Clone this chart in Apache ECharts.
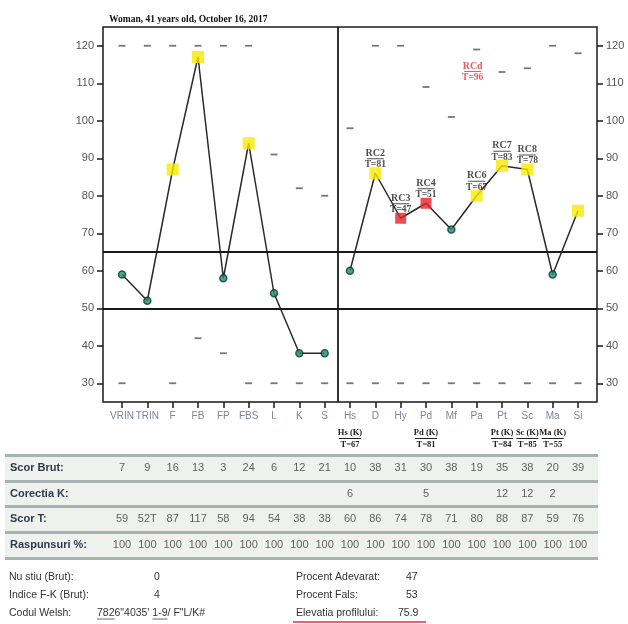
<!DOCTYPE html>
<html><head><meta charset="utf-8">
<script src="https://cdn.jsdelivr.net/npm/echarts@6/dist/echarts.min.js"></script>
<style>html,body{margin:0;padding:0;background:#fff}#c{width:628px;height:624px}</style>
</head><body><div id="c"></div>
<script>
const scales = ['VRIN','TRIN','F','FB','FP','FBS','L','K','S','Hs','D','Hy','Pd','Mf','Pa','Pt','Sc','Ma','Si'];
const tScores = [59,52,87,117,58,94,54,38,38,60,86,74,78,71,80,88,87,59,76];
const markerKind = ['dot','dot','yellow','yellow','dot','yellow','dot','dot','dot','dot','yellow','red','red','dot','yellow','yellow','yellow','dot','yellow'];
const rangeHigh = [120,120,120,120,120,120,91,82,80,98,120,120,109,101,119,113,114,120,118];
const rangeLow = [30,null,30,42,38,30,30,30,30,30,30,30,30,30,30,30,30,30,30];
const rcLabels = [['RC2',81,'D'],['RC3',47,'Hy'],['RC4',51,'Pd'],['RC6',67,'Pa'],['RC7',83,'Pt'],['RC8',78,'Sc']];
const rcdLabel = ['RCd',96,'Pa'];
const kCorrected = {Hs:67, Pd:81, Pt:84, Sc:85, Ma:55};
const yTicks = [30,40,50,60,70,80,90,100,110,120];
const cutLines = [65,50];
const rowNames = ['Scor Brut:','Corectia K:','Scor T:','Raspunsuri %:'];
const scorBrut = [7,9,16,13,3,24,6,12,21,10,38,31,30,38,19,35,38,20,39];
const corectiaK = [null,null,null,null,null,null,null,null,null,6,null,null,5,null,null,12,12,2,null];
const trinDirection = 'T';
const raspunsuri = [100,100,100,100,100,100,100,100,100,100,100,100,100,100,100,100,100,100,100];
const title = 'Woman, 41 years old, October 16, 2017';
const infoLeft = [['Nu stiu (Brut):','0'],['Indice F-K (Brut):','4'],['Codul Welsh:','7826"4035\' 1-9/ F"L/K#']];
const infoRight = [['Procent Adevarat:','47'],['Procent Fals:','53'],['Elevatia profilului:','75.9']];
const welshUnderlined = ['782', '1-9'];

const idx = n => scales.indexOf(n);
const plotLeft = 103, plotRight = 597, tableLeft = 5, tableRight = 598;
const xMin = -0.75, xMax = scales.length - 0.25;
const unit = (plotRight - plotLeft) / (xMax - xMin);
const tMin = xMin - (plotLeft - tableLeft) / unit;
const tMax = xMax + (tableRight - plotRight) / unit;
const catIdx = scales.map((_, i) => i);

const serif = 'Liberation Serif';
const sans = 'Liberation Sans';

const kindStyle = {
  dot: {symbol:'circle', symbolSize:7, itemStyle:{color:'#23907a', borderColor:'#0b3a30', borderWidth:1.5}},
  yellow: {symbol:'rect', symbolSize:12, itemStyle:{color:'#f7ea00'}},
  red: {symbol:'rect', symbolSize:11, itemStyle:{color:'#e8202a'}}
};
const markerData = tScores.map((v,i) => Object.assign({value:[i,v]}, kindStyle[markerKind[i]]));

const dashData = [];
scales.forEach((s,i) => {
  if (rangeHigh[i] != null) dashData.push([i, rangeHigh[i]]);
  if (rangeLow[i] != null) dashData.push([i, rangeLow[i]]);
});

const rcRich = {
  a:{fontFamily:serif, fontWeight:'bold', fontSize:10, lineHeight:10, color:'#222'},
  ul:{width:17, height:1, lineHeight:1, fontSize:1, backgroundColor:'#222'},
  b:{fontFamily:serif, fontWeight:'bold', fontSize:9.5, lineHeight:11, color:'#222'},
  ar:{fontFamily:serif, fontWeight:'bold', fontSize:10, lineHeight:10, color:'#e8303a'},
  ulr:{width:17, height:1, lineHeight:1, fontSize:1, backgroundColor:'#e8303a'},
  br:{fontFamily:serif, fontWeight:'bold', fontSize:9.5, lineHeight:11, color:'#e8303a'}
};
const rcData = rcLabels.map(r => ({value:[idx(r[2]), tScores[idx(r[2])]], name:r[0], t:r[1]}));

const axisRich = {
  n:{fontFamily:sans, fontSize:10, color:'#7a859e', lineHeight:12},
  sp:{fontSize:1, lineHeight:6, height:6},
  u:{fontFamily:serif, fontWeight:'bold', fontSize:8.5, color:'#222', lineHeight:10},
  ul:{width:22, height:1, lineHeight:1, fontSize:1, backgroundColor:'#222'},
  b:{fontFamily:serif, fontWeight:'bold', fontSize:8.5, color:'#222', lineHeight:11}
};

// table cells
const tableData = [];
scales.forEach((s,i) => {
  tableData.push([i, 0, String(scorBrut[i])]);
  if (corectiaK[i] != null) tableData.push([i, 1, String(corectiaK[i])]);
  tableData.push([i, 2, String(tScores[i]) + (s === 'TRIN' ? trinDirection : '')]);
  tableData.push([i, 3, String(raspunsuri[i])]);
});

const infoFont = '10.5px ' + sans;
const mctx = document.createElement('canvas').getContext('2d');
mctx.font = infoFont;
const tw = t => mctx.measureText(t).width;

const graphics = [];
const infoY = [578, 596, 614];
const welshX = 97;
infoLeft.forEach((r,k) => {
  graphics.push({type:'text', left:9, top:infoY[k]-6, style:{text:r[0], font:infoFont, fill:'#333'}});
  graphics.push({type:'text', left: k===2 ? welshX : 154, top:infoY[k]-6, style:{text:r[1], font:infoFont, fill:'#333'}});
});
infoRight.forEach((r,k) => {
  graphics.push({type:'text', left:296, top:infoY[k]-6, style:{text:r[0], font:infoFont, fill:'#333'}});
  graphics.push({type:'text', left: k===2 ? 398 : 406, top:infoY[k]-6, style:{text:r[1], font:infoFont, fill:'#333'}});
});
const welsh = infoLeft[2][1];
welshUnderlined.forEach(part => {
  const p = welsh.indexOf(part);
  const x1 = welshX + tw(welsh.slice(0, p));
  const x2 = x1 + tw(part);
  graphics.push({type:'line', shape:{x1:x1, y1:619, x2:x2, y2:619}, style:{stroke:'#444', lineWidth:0.8}});
});
graphics.push({type:'line', shape:{x1:293,y1:622,x2:426,y2:622}, style:{stroke:'#e0303a', lineWidth:1.5}});

const option = {
  animation:false,
  backgroundColor:'#fff',
  title:{text:title, left:104, top:10, textStyle:{fontFamily:serif, fontWeight:'bold', fontSize:9.5, color:'#111'}},
  grid:[
    {left:plotLeft, right:628-plotRight, top:27, bottom:624-402, show:true, borderColor:'#1a1a1a', borderWidth:1.5, backgroundColor:'transparent'},
    {left:tableLeft, right:628-tableRight, top:455, bottom:624-558}
  ],
  xAxis:[
    {type:'value', gridIndex:0, min:xMin, max:xMax,
     axisLine:{show:false, onZero:false}, splitLine:{show:false},
     axisTick:{show:true, customValues:catIdx, length:6, lineStyle:{color:'#1a1a1a', width:1.5}},
     axisLabel:{customValues:catIdx, margin:8, formatter:v => {
        const s = scales[Math.round(v)];
        if (!s) return '';
        if (kCorrected[s] != null) return '{n|'+s+'}\n{sp| }\n{u|'+s+' (K)}\n{ul| }\n{b|T='+kCorrected[s]+'}';
        return '{n|'+s+'}';
     }, rich:axisRich}},
    {type:'value', gridIndex:1, min:tMin, max:tMax, show:false}
  ],
  yAxis:[
    {type:'value', gridIndex:0, min:25, max:125, position:'left',
     axisLine:{show:false, onZero:false}, splitLine:{show:false},
     axisTick:{show:true, customValues:yTicks, length:6, lineStyle:{color:'#1a1a1a', width:1.5}},
     axisLabel:{customValues:yTicks, margin:9, fontFamily:sans, fontSize:11, color:'#555'}},
    {type:'value', gridIndex:0, min:25, max:125, position:'right',
     axisLine:{show:false, onZero:false}, splitLine:{show:false},
     axisTick:{show:true, customValues:yTicks, length:6, lineStyle:{color:'#1a1a1a', width:1.5}},
     axisLabel:{customValues:yTicks, margin:9, fontFamily:sans, fontSize:11, color:'#555'}},
    {type:'category', gridIndex:1, data:rowNames, inverse:true,
     axisLine:{show:false}, axisTick:{show:false},
     axisLabel:{inside:true, margin:5, fontFamily:sans, fontWeight:'bold', fontSize:11, color:'#2d3b4c'},
     splitArea:{show:true, areaStyle:{color:['#eff1ef']}},
     splitLine:{show:true, lineStyle:{color:'#a6b4b1', width:3}}}
  ],
  series:[
    {type:'line', xAxisIndex:0, yAxisIndex:0, data:tScores.slice(0,9).map((v,i)=>[i,v]), showSymbol:false,
     lineStyle:{color:'#2a2a2a', width:1.5}, z:3,
     markLine:{silent:true, symbol:'none', label:{show:false}, lineStyle:{color:'#1a1a1a', width:1.8, type:'solid'},
       data:[...cutLines.map(v=>({yAxis:v})), {xAxis:8.5}]}},
    {type:'line', xAxisIndex:0, yAxisIndex:0, data:tScores.slice(9).map((v,i)=>[i+9,v]), showSymbol:false,
     lineStyle:{color:'#2a2a2a', width:1.5}, z:3},
    {type:'scatter', xAxisIndex:0, yAxisIndex:0, data:dashData, symbol:'rect', symbolSize:[7,1.8],
     itemStyle:{color:'#555'}, z:2},
    {type:'scatter', xAxisIndex:0, yAxisIndex:0, data:markerData, z:5},
    {type:'scatter', xAxisIndex:0, yAxisIndex:0, data:rcData, symbolSize:0, z:6,
     label:{show:true, position:'top', distance:3, formatter:p => '{a|'+p.data.name+'}\n{ul| }\n{b|T='+p.data.t+'}', rich:rcRich}},
    {type:'scatter', xAxisIndex:0, yAxisIndex:0, data:[{value:[idx(rcdLabel[2]), 113], name:rcdLabel[0], t:rcdLabel[1]}], symbolSize:0, z:6,
     label:{show:true, position:'inside', offset:[-4,0], formatter:p => '{ar|'+p.data.name+'}\n{ulr| }\n{br|T='+p.data.t+'}', rich:rcRich}},
    {type:'scatter', xAxisIndex:1, yAxisIndex:2, data:tableData, symbolSize:0,
     label:{show:true, position:'inside', formatter:p => p.value[2], fontFamily:sans, fontSize:11, color:'#3a3a3a'}}
  ],
  graphic:graphics
};
echarts.init(document.getElementById('c'), null, {renderer:'canvas'}).setOption(option);
</script></body></html>
